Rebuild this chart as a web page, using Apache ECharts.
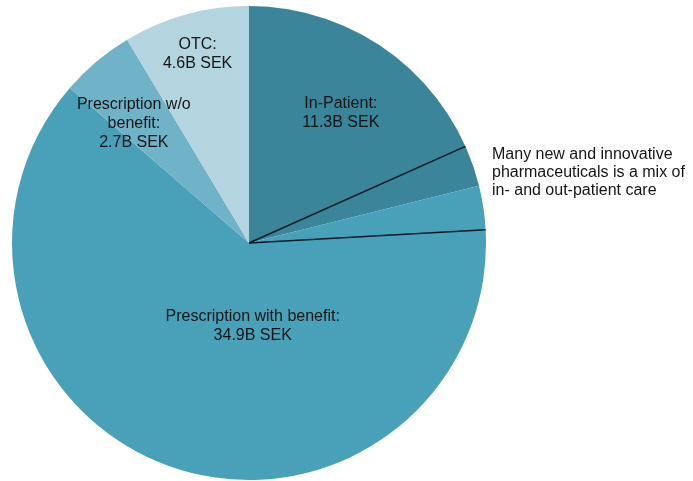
<!DOCTYPE html>
<html>
<head>
<meta charset="utf-8">
<script src="https://cdn.jsdelivr.net/npm/echarts@6/dist/echarts.min.js"></script>
<style>
  html, body { margin: 0; padding: 0; background: #fff; }
  #chart { width: 693px; height: 481px; }
</style>
</head>
<body>
<div id="chart"></div>
<script>
// spending categories, billion SEK
var categories = ['In-Patient', 'Prescription with benefit', 'Prescription w/o benefit', 'OTC'];
var labelNames = ['In-Patient:', 'Prescription with benefit:', 'Prescription w/o\nbenefit:', 'OTC:'];
var values = [11.3, 34.9, 2.7, 4.6];
var colors = ['#3a859a', '#48a1b9', '#70b3c8', '#b4d4df'];
// the "mix" wedge, measured in the same units from the top of the pie
var mixFrom = 9.8;
var mixTo = 12.9;
var note = 'Many new and innovative\npharmaceuticals is a mix of\nin- and out-patient care';

// label nudges away from the default inside spot
var labelShift = [[17, -34], [32, -35], [-37, -26], [-19, -72]];

var cx = 249, cy = 243, R = 237;
var total = values.reduce(function (a, b) { return a + b; }, 0);

function edgePoint(v) {
  var a = -Math.PI / 2 + v / total * Math.PI * 2;
  return [cx + R * Math.cos(a), cy + R * Math.sin(a)];
}

var myChart = echarts.init(document.getElementById('chart'));
var p1 = edgePoint(mixFrom), p2 = edgePoint(mixTo);

var option = {
  animation: false,
  textStyle: { fontFamily: 'Liberation Sans, Arial, sans-serif' },
  series: [{
    type: 'pie',
    center: [cx, cy],
    radius: [0, R],
    startAngle: 90,
    clockwise: true,
    silent: true,
    itemStyle: { borderWidth: 0 },
    label: {
      show: true,
      position: 'inside',
      color: '#151515',
      fontSize: 16,
      lineHeight: 19,
      formatter: function (p) {
        return labelNames[p.dataIndex] + '\n' + p.value + 'B SEK';
      }
    },
    labelLayout: function (p) {
      return { dx: labelShift[p.dataIndex][0], dy: labelShift[p.dataIndex][1] };
    },
    data: categories.map(function (c, i) {
      return { name: c, value: values[i], itemStyle: { color: colors[i] } };
    })
  }],
  graphic: [
    { type: 'line', shape: { x1: cx, y1: cy, x2: p1[0], y2: p1[1] }, style: { stroke: '#0b1a24', lineWidth: 1.5 }, z: 10 },
    { type: 'line', shape: { x1: cx, y1: cy, x2: p2[0], y2: p2[1] }, style: { stroke: '#0b1a24', lineWidth: 1.5 }, z: 10 },
    { type: 'text', left: 492, top: 146, style: { text: note, fill: '#151515', font: '16px Liberation Sans, Arial, sans-serif', lineHeight: 18 } }
  ]
};

myChart.setOption(option);
</script>
</body>
</html>
